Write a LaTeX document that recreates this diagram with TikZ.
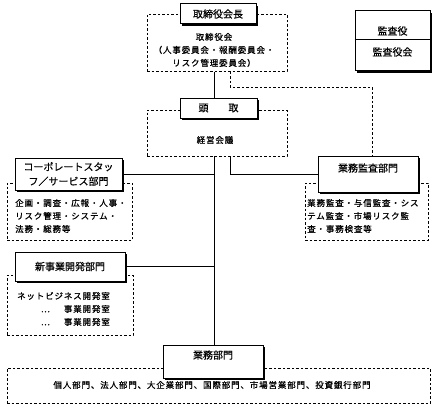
\documentclass[tikz,border=0pt]{standalone}
\usepackage{fontspec}
\setmainfont{Noto Sans CJK JP}[FakeBold=0.5]
\newfontfamily\memofont{Noto Sans CJK JP}[LetterSpace=10, FakeBold=0.8]
\usetikzlibrary{shadows}
\begin{document}
\begin{tikzpicture}[x=1pt, y=-1pt,
    unitbox/.style={draw, line width=1pt, fill=white, inner sep=0pt,
      drop shadow={shadow xshift=1.6pt, shadow yshift=-1.6pt, fill=black, opacity=1},
      font=\fontsize{10}{14.5}\selectfont},
    groupbox/.style={draw, line width=0.7pt, dash pattern=on 2.5pt off 2pt, inner sep=0pt},
    memo/.style={inner sep=0pt, font=\memofont\fontsize{8.5}{13}\selectfont},
    link/.style={line width=0.8pt},
    dotlink/.style={line width=0.7pt, dash pattern=on 2.5pt off 2pt}]
  \useasboundingbox (0,0) rectangle (435,409);

  % dashed groups behind the units
  \node[groupbox, minimum width=140pt, minimum height=57pt] (board) at (217,43) {};
  \node[groupbox, minimum width=140pt, minimum height=46pt] (keiei) at (217,133) {};
  \node[groupbox, minimum width=125pt, minimum height=57pt] (corpgrp) at (69.5,211.5) {};
  \node[groupbox, minimum width=123pt, minimum height=57pt] (kansagrp) at (366.5,211.5) {};
  \node[groupbox, minimum width=126pt, minimum height=60pt] (newgrp) at (70,305) {};
  \node[groupbox, minimum width=423pt, minimum height=35pt] (gyomugrp) at (218.5,385.5) {};

  % group contents
  \node[memo, align=center] (boardtxt) at (214,50) {取締役会\\（人事委員会・報酬委員会・\\リスク管理委員会）};
  \node[memo] (keieitxt) at (215,140) {経営会議};
  \node[memo, anchor=west, align=left] (corptxt) at (15,216) {企画・調査・広報・人事・\\リスク管理・システム・\\法務・総務等};
  \node[memo, anchor=west, align=left] (kansatxt) at (307,216) {業務監査・与信監査・シス\\テム監査・市場リスク監\\査・事務検査等};
  \node[memo, anchor=east, align=right] (newtxt) at (110,309) {ネットビジネス開発室\\…\hspace{14pt}事業開発室\\…\hspace{14pt}事業開発室};
  \node[memo] (gyomutxt) at (212,385) {個人部門、法人部門、大企業部門、国際部門、市場営業部門、投資銀行部門};

  % units
  \node[unitbox, minimum width=76pt, minimum height=20pt] (chair) at (218,14) {取締役会長};
  \node[unitbox, minimum width=75pt, minimum height=60pt] (kansayaku) at (392.5,41) {};
  \draw[line width=0.8pt] (kansayaku.west |- 0,39) -- (kansayaku.east |- 0,39);
  \node[font=\fontsize{10}{12}\selectfont] (kyaku) at (392.5,31) {監査役};
  \node[font=\fontsize{10}{12}\selectfont] (kyakukai) at (392.5,52) {監査役会};
  \node[unitbox, minimum width=77pt, minimum height=20pt] (tou) at (218.5,108) {頭　　取};
  \node[unitbox, minimum width=107pt, minimum height=32pt, align=center] (corp) at (68.5,174) {コーポレートスタッ\\フ／サービス部門};
  \node[unitbox, minimum width=100pt, minimum height=36pt] (kansabu) at (368,174) {};
  \node[font=\fontsize{10}{12}\selectfont] (kansabutxt) at (368,168) {業務監査部門};
  \node[unitbox, minimum width=110pt, minimum height=29pt] (newbiz) at (70,266.5) {新事業開発部門};
  \node[unitbox, minimum width=100pt, minimum height=33pt] (gyomu) at (213,361.5) {};
  \node[font=\fontsize{10}{12}\selectfont] (gyomutitle) at (213,355) {業務部門};

  % connectors
  \coordinate (trunk) at (214,0);
  \coordinate (side) at (230,0);
  \coordinate (bend) at (230,87);
  \draw[link] (board.south -| trunk) -- (tou.north -| trunk);
  \draw[dotlink] (board.south -| bend) -- (bend) -| ([xshift=4pt]kansabu.north);
  \draw[link] (keiei.south -| trunk) -- (gyomu.north -| trunk);
  \draw[link] (keiei.south -| side) |- (kansabu.west);
  \draw[link] (corp.east) -- (corp.east -| trunk);
  \draw[link] (newbiz.east) -- (newbiz.east -| trunk);
\end{tikzpicture}
\end{document}
